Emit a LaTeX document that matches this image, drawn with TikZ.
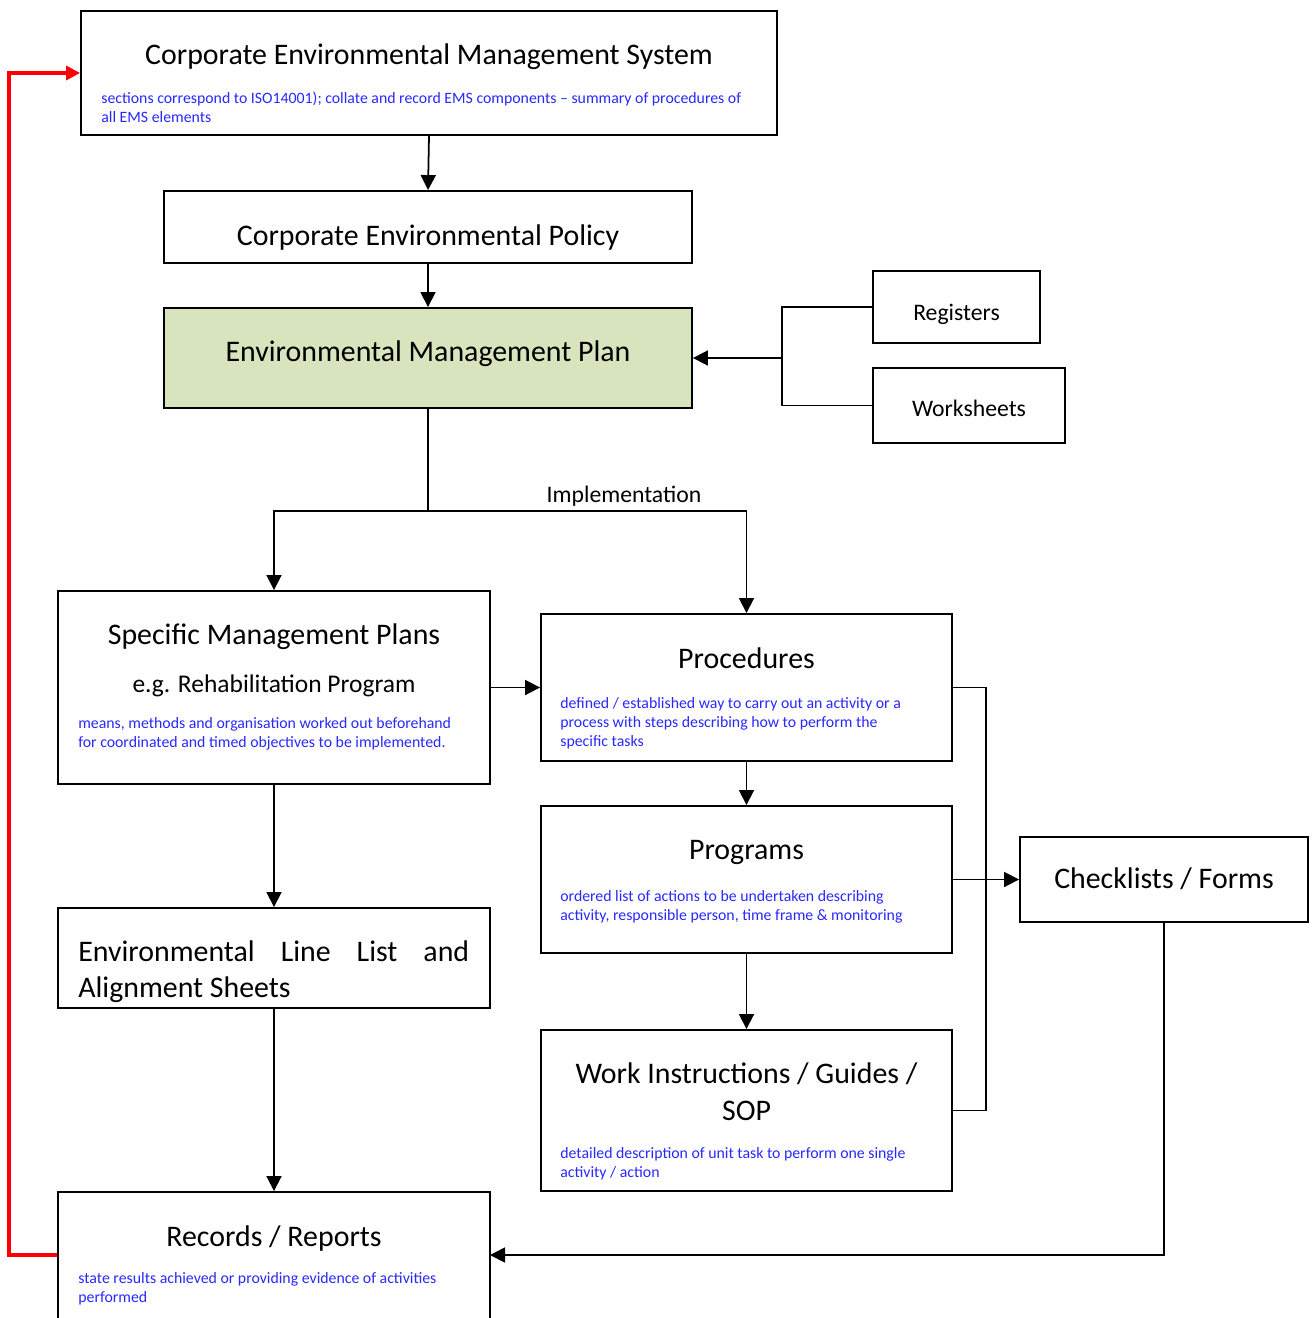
\documentclass[tikz,border=0pt]{standalone}
\usepackage{fontspec}
\setmainfont{Carlito}
\usepackage{tikz}
\usetikzlibrary{calc,positioning,arrows.meta}
\definecolor{notec}{RGB}{40,40,255}
\definecolor{planc}{RGB}{215,228,189}

\begin{document}
\begin{tikzpicture}[x=0.02cm,y=-0.02cm,
    box/.style={draw, line width=1.1pt, inner sep=0pt},
    ttl/.style={font=\fontsize{17}{20.5}\selectfont, anchor=base, inner sep=0pt},
    lbl/.style={font=\fontsize{13.5}{16}\selectfont, anchor=base, inner sep=0pt},
    note/.style={text=notec, font=\fontsize{9}{10.8}\selectfont, align=left, anchor=base west, inner sep=0pt},
    arr/.style={line width=1pt, -{Triangle[length=0.3cm,width=0.3cm]}},
    lnk/.style={line width=1pt},
    back/.style={draw=red, line width=1.8pt, -{Triangle[length=0.28cm,width=0.28cm]}}]
    \useasboundingbox (0,0) rectangle (1315,1318);

    % Kästen
    \node[box, minimum width=13.92cm, minimum height=2.48cm] (ems) at (429,73) {};
    \node[box, minimum width=10.56cm, minimum height=1.44cm] (pol) at (428,227) {};
    \node[box, fill=planc, minimum width=10.56cm, minimum height=2cm] (emp) at (428,358) {};
    \node[box, minimum width=3.34cm, minimum height=1.44cm] (reg) at (956.5,307) {};
    \node[box, minimum width=3.84cm, minimum height=1.5cm] (wsh) at (969,405.5) {};
    \node[box, minimum width=8.64cm, minimum height=3.86cm] (smp) at (274,687.5) {};
    \node[box, minimum width=8.22cm, minimum height=2.94cm] (proc) at (746.5,687.5) {};
    \node[box, minimum width=8.22cm, minimum height=2.94cm] (prog) at (746.5,879.5) {};
    \node[box, minimum width=8.22cm, minimum height=3.22cm] (wi) at (746.5,1110.5) {};
    \node[box, minimum width=5.76cm, minimum height=1.7cm] (chk) at (1164,879.5) {};
    \node[box, minimum width=8.64cm, minimum height=2cm] (ell) at (274,958) {};
    \node[box, minimum width=8.64cm, minimum height=3.2cm] (rec) at (274,1272) {};

    % Texte
    \node[ttl] (emsT) at (429,65) {Corporate Environmental Management System};
    \node[note] (emsN) at (101,122) {sections correspond to ISO14001); collate and record EMS components – summary of procedures of\\all EMS elements};
    \node[ttl] (polT) at (428,245) {Corporate Environmental Policy};
    \node[ttl] (empT) at (428,361) {Environmental Management Plan};
    \node[lbl] (regT) at (956.5,320) {Registers};
    \node[lbl] (wshT) at (969,416) {Worksheets};
    \node[lbl] (implT) at (624,502) {Implementation};
    \node[ttl] (smpT) at (274,644) {Specific Management Plans};
    \node[ttl, font=\fontsize{14.5}{17}\selectfont] (smpE) at (274,692) {e.g. Rehabilitation Program};
    \node[note] (smpN) at (78,747) {means, methods and organisation worked out beforehand\\for coordinated and timed objectives to be implemented.};
    \node[ttl] (procT) at (746.5,668) {Procedures};
    \node[note] (procN) at (560,746) {defined / established way to carry out an activity or a\\process with steps describing how to perform the\\specific tasks};
    \node[ttl] (progT) at (746.5,859) {Programs};
    \node[note] (progN) at (560,920) {ordered list of actions to be undertaken describing\\activity, responsible person, time frame \& monitoring};
    \node[ttl, align=center, font=\fontsize{17}{21}\selectfont] (wiT) at (746.5,1120) {Work Instructions / Guides /\\SOP};
    \node[note] (wiN) at (560,1177) {detailed description of unit task to perform one single\\activity / action};
    \node[ttl] (chkT) at (1164,888) {Checklists / Forms};
    \node[ttl, anchor=base west, text width=7.82cm, align=justify, font=\fontsize{17}{20.5}\selectfont] (ellT) at (78,961) {Environmental Line List and\linebreak Alignment Sheets};
    \node[ttl] (recT) at (274,1246) {Records / Reports};
    \node[note] (recN) at (78,1302) {state results achieved or providing evidence of activities\\performed};

    % Verbindungen
    \draw[arr] (ems.south) -- (pol.north);
    \draw[arr] (pol.south) -- (emp.north);

    \coordinate (brk) at (782,358);
    \draw[lnk] (reg.west) -| (brk) |- (wsh.west);
    \draw[arr] (brk) -- (emp.east);

    \coordinate (impl) at (428,511);
    \draw[lnk] (emp.south) -- (impl);
    \draw[arr] (impl) -| (smp.north);
    \draw[arr] (impl) -| (proc.north);

    \draw[arr] (smp.east) -- (proc.west);
    \draw[arr] (proc.south) -- (prog.north);
    \draw[arr] (prog.south) -- (wi.north);

    \coordinate (rb) at (986,879.5);
    \draw[lnk] (proc.east) -| (rb) |- (wi.east);
    \draw[lnk] (prog.east) -- (rb);
    \draw[arr] (rb) -- (chk.west);

    \draw[arr] (smp.south) -- (ell.north);
    \draw[arr] (ell.south) -- (rec.north);

    \coordinate (recin) at (490,1255);
    \draw[arr] (chk.south) |- (recin);

    % Rückführung
    \draw[back] (rec.west |- recin) -- ++(-48,0) |- (ems.west);
\end{tikzpicture}
\end{document}
